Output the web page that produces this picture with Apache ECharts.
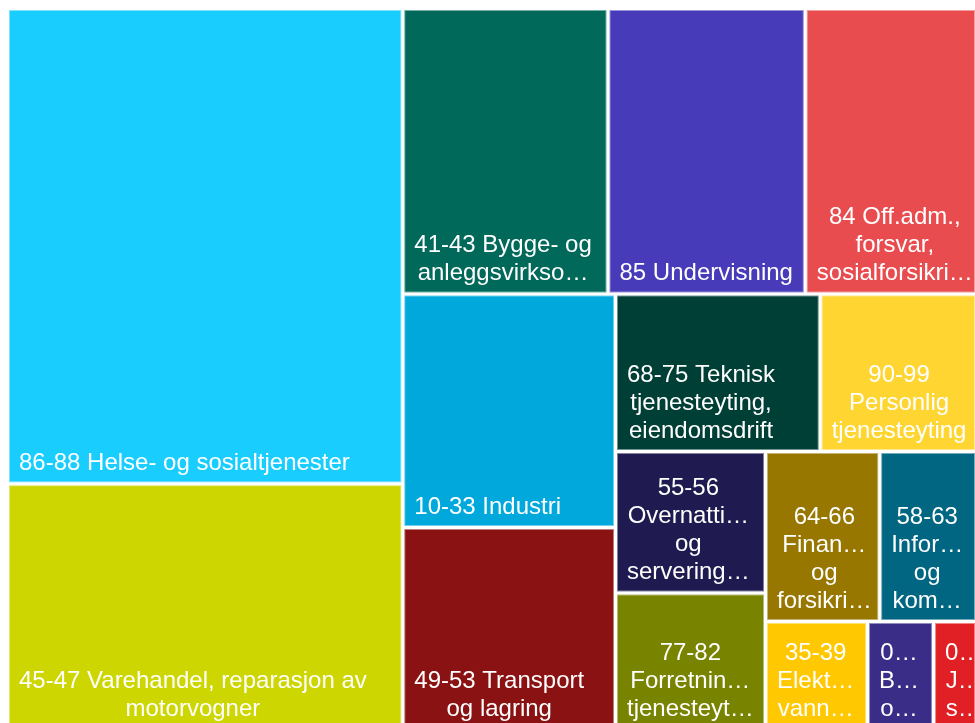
<!DOCTYPE html>
<html>
<head>
<meta charset="utf-8">
<style>
  html, body { margin: 0; padding: 0; background: #ffffff; }
  #chart { width: 975px; height: 723px; }
</style>
<script src="https://cdn.jsdelivr.net/npm/echarts@6/dist/echarts.min.js"></script>
</head>
<body>
<div id="chart"></div>
<script>
// ---- data (in the order drawn) ----
const categories = [
  "86-88 Helse- og sosialtjenester",
  "45-47 Varehandel, reparasjon av motorvogner",
  "41-43 Bygge- og anleggsvirksomhet",
  "85 Undervisning",
  "84 Off.adm., forsvar, sosialforsikring",
  "10-33 Industri",
  "49-53 Transport og lagring",
  "68-75 Teknisk tjenesteyting, eiendomsdrift",
  "90-99 Personlig tjenesteyting",
  "55-56 Overnattings- og serveringsvirksomhet",
  "77-82 Forretningsmessig tjenesteyting",
  "64-66 Finansiering og forsikring",
  "58-63 Informasjon og kommunikasjon",
  "35-39 Elektrisitet, vann og renovasjon",
  "05-09 Bergverksdrift og utvinning",
  "01-03 Jordbruk, skogbruk og fiske"
];
const values = [18789, 9713, 5859, 5633, 4888, 4967, 4297, 3224, 2462,
                2123, 2048, 1941, 1646, 1102, 713, 464];
const colors = ["#1acdff", "#cdd600", "#00695a", "#473bb9", "#e84c4f", "#00a8dc",
                "#8a1213", "#003f35", "#ffd531", "#1f1a4f", "#788300", "#977700",
                "#006681", "#ffc800", "#392d88", "#e02024"];
// label lines as they appear on the picture
const labelLines = [
  ["86-88 Helse- og sosialtjenester"],
  ["45-47 Varehandel, reparasjon av", "motorvogner"],
  ["41-43 Bygge- og", "anleggsvirkso…"],
  ["85 Undervisning"],
  ["84 Off.adm.,", "forsvar,", "sosialforsikri…"],
  ["10-33 Industri"],
  ["49-53 Transport", "og lagring"],
  ["68-75 Teknisk", "tjenesteyting,", "eiendomsdrift"],
  ["90-99", "Personlig", "tjenesteyting"],
  ["55-56", "Overnatti…", "og", "servering…"],
  ["77-82", "Forretnin…", "tjenesteyt…"],
  ["64-66", "Finan…", "og", "forsikri…"],
  ["58-63", "Infor…", "og", "kom…"],
  ["35-39", "Elekt…", "vann…"],
  ["0…", "B…", "o…"],
  ["0…", "J…", "s…"]
];

// ---- styling ----
const FONT_SIZE = 24;
const FONT_FAMILY = '"Liberation Sans", Arial, Helvetica, sans-serif';
const PAD_LEFT = 9;

const measureCtx = document.createElement('canvas').getContext('2d');
measureCtx.font = FONT_SIZE + 'px ' + FONT_FAMILY;
function blockWidth(lines) {
  let w = 0;
  lines.forEach(l => { w = Math.max(w, measureCtx.measureText(l).width); });
  return w;
}
function tint(hex, t) {
  const n = parseInt(hex.slice(1), 16);
  const r = (n >> 16) & 255, g = (n >> 8) & 255, b = n & 255;
  const m = c => Math.round(c + (255 - c) * t);
  return 'rgb(' + m(r) + ',' + m(g) + ',' + m(b) + ')';
}

function leaf(i, layouts) {
  const lines = labelLines[i];
  const bw = blockWidth(lines);
  let px = PAD_LEFT + bw / 2;
  const lay = layouts && layouts[categories[i]];
  if (lay) {
    const cw = lay.width - 2 * (lay.borderWidth || 0);
    if (PAD_LEFT + bw > cw && cw > 60) px = cw / 2;
  }
  return {
    name: categories[i],
    value: values[i],
    itemStyle: { color: colors[i], borderColor: tint(colors[i], 0.45), borderWidth: 1 },
    label: {
      formatter: lines.join('\n'),
      position: [px, '100%'],
      offset: [0, -4]
    }
  };
}

function buildOption(layouts) {
  const data = categories.map((c, i) => leaf(i, layouts));
  return {
    animation: false,
    backgroundColor: '#ffffff',
    tooltip: { show: false },
    series: [{
      type: 'treemap',
      left: 9, top: 10, width: 966, height: 718,
      sort: false,
      squareRatio: 1.2,
      roam: false,
      nodeClick: false,
      silent: true,
      breadcrumb: { show: false },
      emphasis: { disabled: true },
      itemStyle: { gapWidth: 3, borderWidth: 1 },
      levels: [
        { itemStyle: { borderWidth: 0, gapWidth: 3, borderColor: '#ffffff' } }
      ],
      upperLabel: { show: false },
      label: {
        show: true,
        color: '#ffffff',
        fontSize: FONT_SIZE,
        fontFamily: FONT_FAMILY,
        lineHeight: 28,
        align: 'center',
        verticalAlign: 'bottom',
        overflow: 'none',
        padding: 0,
        textBorderWidth: 0
      },
      data: data
    }]
  };
}

const chart = echarts.init(document.getElementById('chart'), null, { renderer: 'canvas' });
chart.setOption(buildOption(null));
let layouts = null;
try {
  const sd = chart.getModel().getSeriesByIndex(0).getData();
  layouts = {};
  for (let i = 0; i < sd.count(); i++) {
    const lay = sd.getItemLayout(i);
    if (lay) layouts[sd.getName(i)] = lay;
  }
} catch (e) { layouts = null; }
if (layouts) chart.setOption(buildOption(layouts));
</script>
</body>
</html>
